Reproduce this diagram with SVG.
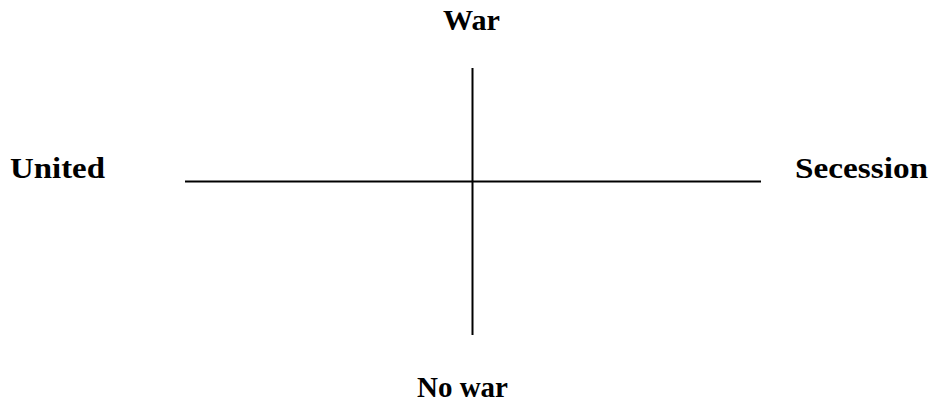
<svg xmlns="http://www.w3.org/2000/svg" width="932" height="403" viewBox="0 0 932 403">
<style>
.lbl{font-family:"Liberation Serif","Times New Roman",serif;font-weight:bold;font-size:29px;fill:#000}
.ax{stroke:#000;stroke-width:2;fill:none}
</style>
<rect width="932" height="403" fill="#fff"/>
<g id="connectors">
<line class="ax" x1="185" y1="181.5" x2="761" y2="181.5"/>
<line class="ax" x1="472.5" y1="68" x2="472.5" y2="335"/>
</g>
<g id="war"><text class="lbl" x="443" y="30" textLength="57" lengthAdjust="spacingAndGlyphs">War</text></g>
<g id="united"><text class="lbl" x="10" y="178" textLength="95" lengthAdjust="spacingAndGlyphs">United</text></g>
<g id="secession"><text class="lbl" x="795" y="178" textLength="133" lengthAdjust="spacingAndGlyphs">Secession</text></g>
<g id="nowar"><text class="lbl" x="417" y="397" textLength="91" lengthAdjust="spacingAndGlyphs">No war</text></g>
</svg>
